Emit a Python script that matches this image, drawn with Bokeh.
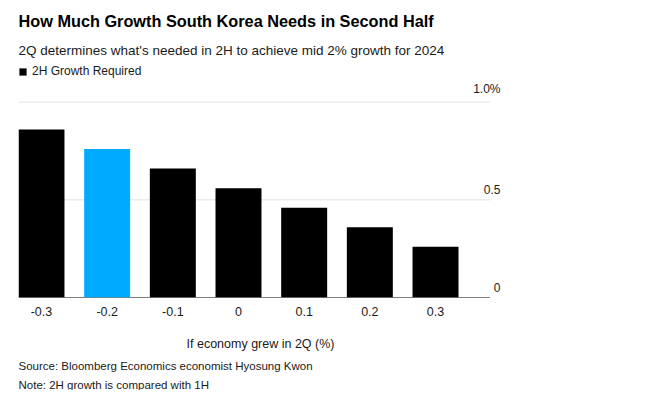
from bokeh.plotting import figure
from bokeh.models import Range1d, FixedTicker, Title, Legend, LegendItem, ColumnDataSource
from bokeh.core.properties import value
from bokeh.embed import file_html
from bokeh.resources import INLINE

categories = ["-0.3", "-0.2", "-0.1", "0", "0.1", "0.2", "0.3"]
required_2h = [0.86, 0.76, 0.66, 0.56, 0.46, 0.36, 0.26]
highlight = "-0.2"
y_ticks = [0, 0.5, 1.0]
y_tick_labels = ["0", "0.5", "1.0%"]

FONT = "Liberation Sans"
BLACK = "#000000"
BLUE = "#00AAFF"
TXT = "#1a1a1a"

idx = list(range(len(categories)))
colors = [BLUE if c == highlight else BLACK for c in categories]

x_lo, x_hi = -0.35, 7.02
grid_hi = 6.83
p = figure(width=653, height=390, output_backend="svg", toolbar_location=None,
           x_range=Range1d(x_lo, x_hi), y_range=Range1d(0, 1.193),
           min_border_left=18, min_border_right=151, min_border_top=64, min_border_bottom=91)
p.outline_line_color = None
p.yaxis.visible = False
p.xgrid.visible = False
p.ygrid.visible = False

# gridlines
p.segment(x0=[x_lo] * len(y_ticks), x1=[grid_hi] * len(y_ticks), y0=y_ticks, y1=y_ticks,
          line_color=["#000000" if t == 0 else "#e3e3e3" for t in y_ticks], line_width=1)

src = ColumnDataSource(dict(x=idx, top=required_2h, color=colors))
bars = p.vbar(x="x", top="top", width=0.7, bottom=0, fill_color="color", line_color=None, source=src)

p.text(x=[x_hi] * len(y_ticks), y=y_ticks, text=y_tick_labels, text_align="right",
       text_baseline="bottom", x_offset=-2, y_offset=-6, text_font=value(FONT),
       text_font_size="12px", text_color=TXT)

ax = p.xaxis[0]
ax.ticker = FixedTicker(ticks=idx)
ax.major_label_overrides = {i: c for i, c in zip(idx, categories)}
ax.axis_line_color = None
ax.major_tick_line_color = None
ax.minor_tick_line_color = None
ax.major_label_text_font = FONT
ax.major_label_text_font_size = "12.5px"
ax.major_label_text_color = TXT
ax.major_label_standoff = 3
ax.axis_label = "If economy grew in 2Q (%)"
ax.axis_label_text_font = FONT
ax.axis_label_text_font_size = "12.5px"
ax.axis_label_text_font_style = "normal"
ax.axis_label_text_color = TXT
ax.axis_label_standoff = 18

legend = Legend(items=[LegendItem(label="2H Growth Required", renderers=[bars], index=0)],
                location="top_left", border_line_color=None, background_fill_alpha=0,
                glyph_width=9, glyph_height=9, label_text_font=FONT, label_text_font_size="12px",
                label_text_color=TXT, padding=0, margin=0, label_standoff=5,
                label_height=9)
p.add_layout(legend)

p.add_layout(Title(text="2Q determines what's needed in 2H to achieve mid 2% growth for 2024",
                   text_font=FONT, text_font_size="13.5px", text_font_style="normal",
                   text_color=TXT, align="left", standoff=13), "above")
p.add_layout(Title(text="How Much Growth South Korea Needs in Second Half",
                   text_font=FONT, text_font_size="16.3px", text_font_style="bold",
                   text_color="#000000", align="left", standoff=9), "above")

p.add_layout(Title(text="Source: Bloomberg Economics economist Hyosung Kwon",
                   text_font=FONT, text_font_size="11.5px", text_font_style="normal",
                   text_color=TXT, align="left", standoff=9, text_line_height=1.0), "below")
p.add_layout(Title(text="Note: 2H growth is compared with 1H",
                   text_font=FONT, text_font_size="11.5px", text_font_style="normal",
                   text_color=TXT, align="left", standoff=0, text_line_height=1.0), "below")

open("out.html", "w").write(file_html(p, INLINE))
